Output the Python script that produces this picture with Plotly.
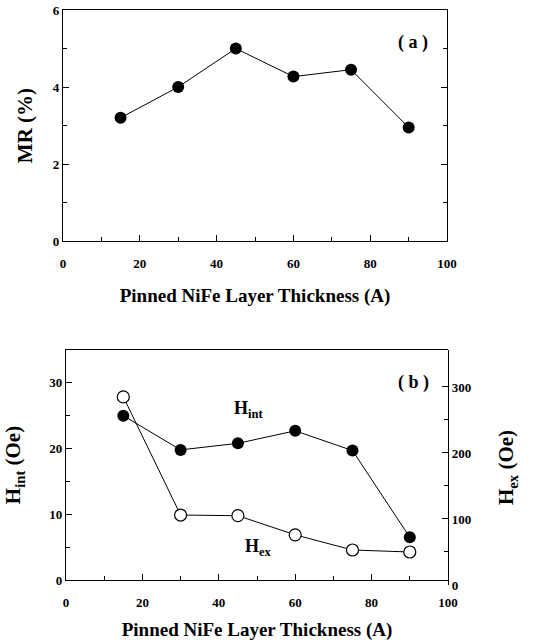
import plotly.graph_objects as go

thickness = [15, 30, 45, 60, 75, 90]
mr = [3.2, 4.0, 5.0, 4.27, 4.45, 2.95]
h_int = [25.0, 19.8, 20.8, 22.7, 19.7, 6.5]
h_ex = [285, 106, 105, 76, 53, 50]

FONT = "Liberation Serif"
tickfont = dict(family=FONT, size=13, color="black", weight="bold")
xtitlefont = dict(family=FONT, size=19, color="black")
ytitlefont = dict(family=FONT, size=21, color="black")
annfont = dict(family=FONT, size=18, color="black")

fig = go.Figure()
fig.add_trace(go.Scatter(x=thickness, y=mr, mode="lines+markers", xaxis="x", yaxis="y",
                         line=dict(color="black", width=1),
                         marker=dict(symbol="circle", size=12, color="black"), showlegend=False))
fig.add_trace(go.Scatter(x=thickness, y=h_ex, mode="lines+markers", xaxis="x2", yaxis="y3",
                         line=dict(color="black", width=1),
                         marker=dict(symbol="circle", size=12, color="white",
                                     line=dict(color="black", width=1.2)), showlegend=False))
fig.add_trace(go.Scatter(x=thickness, y=h_int, mode="lines+markers", xaxis="x2", yaxis="y2",
                         line=dict(color="black", width=1),
                         marker=dict(symbol="circle", size=12, color="black"), showlegend=False))

xcommon = dict(range=[0, 100], dtick=20, ticks="inside", ticklen=6, tickwidth=1,
               showline=True, linecolor="black", linewidth=1.2, mirror=True, automargin=False,
               showgrid=False, zeroline=False, tickfont=tickfont, ticklabelstandoff=10,
               minor=dict(dtick=10, ticks="inside", ticklen=4, tickcolor="black"),
               tickcolor="black")
ycommon = dict(ticks="inside", ticklen=6, tickwidth=1, tickcolor="black", automargin=False,
               showline=True, linecolor="black", linewidth=1.2,
               showgrid=False, zeroline=False, tickfont=tickfont)

fig.update_layout(
    width=538, height=642, margin=dict(l=0, r=0, t=0, b=0, pad=0, autoexpand=False),
    paper_bgcolor="white", plot_bgcolor="rgba(0,0,0,0)",
    xaxis=dict(domain=[0.117, 0.831], anchor="y",
               title=dict(text="<b>Pinned NiFe Layer Thickness (A)</b>", font=xtitlefont, standoff=18),
               **xcommon),
    yaxis=dict(domain=[0.6246, 0.9844], anchor="x", range=[0, 6], dtick=2, mirror="ticks",
               title=dict(text="<b>MR (%)</b>", font=ytitlefont, standoff=14),
               minor=dict(dtick=1, ticks="inside", ticklen=4, tickcolor="black"),
               **ycommon),
    xaxis2=dict(domain=[0.1227, 0.8327], anchor="y2",
                title=dict(text="<b>Pinned NiFe Layer Thickness (A)</b>", font=xtitlefont, standoff=14),
                **xcommon),
    yaxis2=dict(domain=[0.0966, 0.4548], anchor="x2", range=[0, 35], tickvals=[0, 10, 20, 30],
                title=dict(text="<b>H<sub>int</sub> (Oe)</b>", font=ytitlefont, standoff=22),
                minor=dict(tickvals=[5, 15, 25], ticks="inside", ticklen=4, tickcolor="black"),
                **ycommon),
    yaxis3=dict(domain=[0.0888, 0.4548], side="right", anchor="x2", range=[0, 356],
                tickvals=[0, 100, 200, 300],
                title=dict(text="<b>H<sub>ex</sub> (Oe)</b>", font=ytitlefont, standoff=28),
                minor=dict(tickvals=[50, 150, 250], ticks="inside", ticklen=4, tickcolor="black"),
                **ycommon),
)

fig.add_annotation(x=91, y=5.15, xref="x", yref="y", text="<b>( a )</b>", showarrow=False, font=annfont)
fig.add_annotation(x=91, y=30.0, xref="x2", yref="y2", text="<b>( b )</b>", showarrow=False, font=annfont)
fig.add_annotation(x=48, y=26.0, xref="x2", yref="y2", text="<b>H<sub>int</sub></b>", showarrow=False, font=annfont)
fig.add_annotation(x=50.5, y=5.0, xref="x2", yref="y2", text="<b>H<sub>ex</sub></b>", showarrow=False, font=annfont)

fig.write_html("out.html")
